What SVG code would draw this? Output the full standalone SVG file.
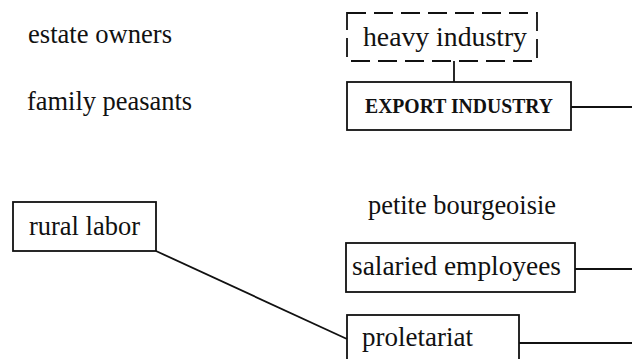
<svg xmlns="http://www.w3.org/2000/svg" width="632" height="359" viewBox="0 0 632 359">
<style>
.t{font-family:"Liberation Serif","Times New Roman",serif;font-size:27px;fill:#111}
.sc{font-family:"Liberation Serif","Times New Roman",serif;font-size:21px;font-weight:bold;fill:#111}
.box{fill:none;stroke:#111;stroke-width:1.8}
.dash{fill:none;stroke:#111;stroke-width:1.8;stroke-dasharray:19 8}
.ln{fill:none;stroke:#111;stroke-width:1.8}
</style>
<rect width="632" height="359" fill="#fff"/>
<g id="estate-owners"><text class="t" x="28" y="43" textLength="144" lengthAdjust="spacingAndGlyphs">estate owners</text></g>
<g id="family-peasants"><text class="t" x="27" y="110" textLength="165" lengthAdjust="spacingAndGlyphs">family peasants</text></g>
<g id="heavy-industry"><rect class="dash" x="347" y="13" width="190" height="48"/><text class="t" x="363" y="46" textLength="164" lengthAdjust="spacingAndGlyphs">heavy industry</text></g>
<g id="export-industry"><rect class="box" x="347" y="82" width="224" height="48"/><text class="sc" x="365" y="113" textLength="188" lengthAdjust="spacingAndGlyphs">EXPORT INDUSTRY</text></g>
<g id="petite-bourgeoisie"><text class="t" x="368" y="214" textLength="188" lengthAdjust="spacingAndGlyphs">petite bourgeoisie</text></g>
<g id="rural-labor"><rect class="box" x="13" y="202" width="143" height="49"/><text class="t" x="29" y="235" textLength="111" lengthAdjust="spacingAndGlyphs">rural labor</text></g>
<g id="salaried-employees"><rect class="box" x="346" y="243" width="229" height="49"/><text class="t" x="352" y="275" textLength="209" lengthAdjust="spacingAndGlyphs">salaried employees</text></g>
<g id="proletariat"><rect class="box" x="347" y="315" width="172" height="60"/><text class="t" x="362" y="346" textLength="111" lengthAdjust="spacingAndGlyphs">proletariat</text></g>
<g id="connectors">
<line class="ln" x1="454" y1="61" x2="454" y2="82"/>
<line class="ln" x1="571" y1="107" x2="632" y2="107"/>
<line class="ln" x1="575" y1="269" x2="632" y2="269"/>
<line class="ln" x1="519" y1="343" x2="632" y2="343"/>
<line class="ln" x1="156" y1="251" x2="347" y2="339"/>
</g>
</svg>
